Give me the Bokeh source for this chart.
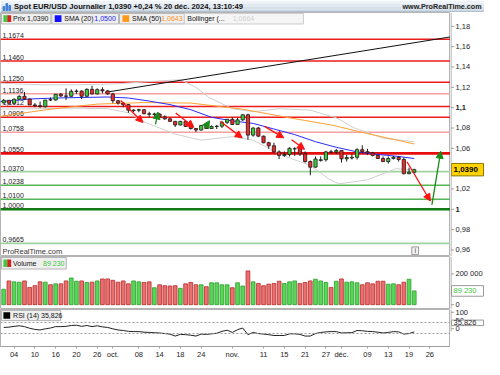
from bokeh.plotting import figure
from bokeh.layouts import column, row
from bokeh.models import Range1d, FixedTicker, Arrow, NormalHead, Span
from bokeh.core.properties import value
from bokeh.embed import file_html
from bokeh.resources import INLINE

FONT = "Liberation Sans"

# ---------------- data ----------------
title_text = "Spot EUR/USD Journalier 1,0390 +0,24 % 20 déc. 2024, 13:10:49"
site_text = "www.ProRealTime.com"

opens = [1.1047, 1.1072, 1.1044, 1.1083, 1.1112, 1.1085, 1.1027, 1.1020, 1.1010, 1.1078,
         1.1075, 1.1132, 1.1115, 1.1112, 1.1160, 1.1163, 1.1112, 1.1180, 1.1135, 1.1177,
         1.1165, 1.1135, 1.1068, 1.1045, 1.1030, 1.0972, 1.0975, 1.0980, 1.0940, 1.0935,
         1.0937, 1.0910, 1.0890, 1.0865, 1.0830, 1.0865, 1.0815, 1.0795, 1.0780, 1.0825,
         1.0795, 1.0815, 1.0818, 1.0855, 1.0885, 1.0835, 1.0880, 1.0930, 1.0730, 1.0800,
         1.0720, 1.0655, 1.0625, 1.0565, 1.0530, 1.0540, 1.0595, 1.0597, 1.0545, 1.0470,
         1.0415, 1.0480, 1.0488, 1.0565, 1.0563, 1.0578, 1.0497, 1.0505, 1.0512, 1.0587,
         1.0567, 1.0555, 1.0530, 1.0500, 1.0470, 1.0500, 1.0512, 1.0490, 1.0350, 1.0365]
highs = [1.1085, 1.1075, 1.1090, 1.1120, 1.1155, 1.1090, 1.1045, 1.1060, 1.1075, 1.1100,
         1.1135, 1.1145, 1.1190, 1.1180, 1.1180, 1.1170, 1.1190, 1.1215, 1.1190, 1.1200,
         1.1175, 1.1145, 1.1075, 1.1055, 1.1035, 1.0985, 1.0990, 1.0985, 1.0960, 1.0950,
         1.0945, 1.0925, 1.0900, 1.0870, 1.0870, 1.0870, 1.0835, 1.0800, 1.0830, 1.0835,
         1.0825, 1.0830, 1.0870, 1.0890, 1.0905, 1.0900, 1.0935, 1.0940, 1.0805, 1.0810,
         1.0725, 1.0665, 1.0655, 1.0580, 1.0570, 1.0610, 1.0610, 1.0610, 1.0570, 1.0480,
         1.0520, 1.0520, 1.0575, 1.0585, 1.0595, 1.0580, 1.0535, 1.0545, 1.0600, 1.0630,
         1.0595, 1.0565, 1.0540, 1.0520, 1.0520, 1.0525, 1.0525, 1.0510, 1.0410, 1.0400]
lows = [1.1040, 1.1025, 1.1030, 1.1075, 1.1075, 1.1025, 1.1005, 1.1000, 1.1000, 1.1065,
        1.1070, 1.1105, 1.1075, 1.1105, 1.1135, 1.1085, 1.1105, 1.1130, 1.1130, 1.1140,
        1.1125, 1.1045, 1.1030, 1.1005, 1.0950, 1.0955, 1.0955, 1.0935, 1.0905, 1.0915,
        1.0905, 1.0880, 1.0860, 1.0810, 1.0825, 1.0810, 1.0785, 1.0760, 1.0775, 1.0790,
        1.0790, 1.0790, 1.0800, 1.0840, 1.0830, 1.0835, 1.0870, 1.0685, 1.0715, 1.0710,
        1.0650, 1.0595, 1.0560, 1.0495, 1.0515, 1.0520, 1.0525, 1.0525, 1.0460, 1.0335,
        1.0410, 1.0470, 1.0470, 1.0550, 1.0545, 1.0460, 1.0470, 1.0490, 1.0490, 1.0555,
        1.0535, 1.0520, 1.0495, 1.0465, 1.0450, 1.0490, 1.0470, 1.0345, 1.0345, 1.0355]
closes = [1.1072, 1.1044, 1.1083, 1.1112, 1.1085, 1.1027, 1.1020, 1.1010, 1.1075, 1.1075,
          1.1132, 1.1115, 1.1112, 1.1160, 1.1163, 1.1112, 1.1180, 1.1135, 1.1177, 1.1165,
          1.1135, 1.1068, 1.1045, 1.1030, 1.0975, 1.0976, 1.0980, 1.0940, 1.0935, 1.0937,
          1.0910, 1.0890, 1.0865, 1.0830, 1.0865, 1.0815, 1.0795, 1.0780, 1.0825, 1.0795,
          1.0815, 1.0818, 1.0855, 1.0885, 1.0835, 1.0880, 1.0930, 1.0730, 1.0800, 1.0720,
          1.0655, 1.0625, 1.0565, 1.0530, 1.0540, 1.0600, 1.0597, 1.0545, 1.0470, 1.0415,
          1.0495, 1.0488, 1.0565, 1.0563, 1.0578, 1.0497, 1.0510, 1.0512, 1.0587, 1.0567,
          1.0555, 1.0530, 1.0500, 1.0470, 1.0500, 1.0512, 1.0490, 1.0350, 1.0365, 1.0390]
volumes = [100000, 154000, 148000, 146000, 154000, 112000, 123000, 148000, 146000, 129000,
           135000, 135000, 154000, 173000, 152000, 154000, 144000, 146000, 154000, 167000,
           167000, 158000, 146000, 154000, 135000, 154000, 148000, 144000, 148000, 110000,
           129000, 123000, 121000, 123000, 106000, 135000, 144000, 129000, 129000, 117000,
           142000, 142000, 129000, 129000, 110000, 142000, 121000, 219000, 148000, 137000,
           123000, 133000, 137000, 152000, 137000, 148000, 154000, 137000, 144000, 154000,
           165000, 154000, 144000, 112000, 152000, 167000, 146000, 148000, 142000, 129000,
           142000, 135000, 152000, 152000, 133000, 135000, 129000, 146000, 165000, 89230]
rsi = [52, 53, 56, 58, 55, 49, 45, 43, 47, 50,
       55, 55, 56, 59, 60, 56, 59, 55, 58, 54,
       52, 47, 43, 41, 38, 37, 37, 35, 34, 33,
       32, 30, 28, 21, 27, 26, 24, 21, 28, 27,
       29, 31, 38, 42, 34, 44, 50, 26, 34, 30,
       28, 26, 23, 23, 23, 29, 29, 27, 21, 21,
       30, 34, 36, 37, 37, 32, 33, 33, 41, 40,
       38, 37, 35, 32, 34, 37, 36, 28, 30, 35.826]

# indicator lines (bar index, value)
sma20_x = [-0.6, 5, 10, 15, 20, 24, 28, 32, 36, 40, 44, 48, 52, 56, 60, 64, 68, 72, 76, 79]
sma20_y = [1.1060, 1.1085, 1.1095, 1.1100, 1.1105, 1.1095, 1.1065, 1.1030, 1.0980, 1.0905,
           1.0870, 1.0845, 1.0790, 1.0735, 1.0665, 1.0610, 1.0565, 1.0540, 1.0520, 1.0500]
sma50_x = [-0.6, 9, 18, 27, 36, 46, 55, 63, 70, 79]
sma50_y = [1.0915, 1.0985, 1.1035, 1.1050, 1.1045, 1.0985, 1.0900, 1.0830, 1.0745, 1.0643]
boll_up_x = [-0.6, 7, 14, 22, 29, 34, 37, 39.5, 44, 48, 53, 59, 64, 67.5, 73, 79]
boll_up_y = [1.1240, 1.1225, 1.1225, 1.1235, 1.1260, 1.1275, 1.1200, 1.1100, 1.0990, 1.0960,
             1.0990, 1.0975, 1.0900, 1.0800, 1.0700, 1.0664]
boll_lo_x = [-0.6, 7, 14, 20, 24, 27, 30, 33, 38, 44, 48, 52.5, 55.5, 59, 62.5, 64.5, 70, 75.5, 79]
boll_lo_y = [1.0985, 1.0990, 1.0995, 1.0990, 1.0950, 1.0860, 1.0800, 1.0740, 1.0680, 1.0715,
             1.0680, 1.0560, 1.0496, 1.0433, 1.0300, 1.0250, 1.0290, 1.0400, 1.0386]

# horizontal support / resistance levels
levels = [1.1674, 1.1460, 1.1250, 1.1136, 1.1012, 1.0906, 1.0758, 1.0550,
          1.0370, 1.0238, 1.0100, 1.0000, 0.9665]
level_labels = ["1,1674", "1,1460", "1,1250", "1,1136", "1,1012", "1,0906", "1,0758", "1,0550",
                "1,0370", "1,0238", "1,0100", "1,0000", "0,9665"]
level_colors = ["#ee1c1c", "#ee1c1c", "#ee1c1c", "#f5a0a0", "#ee1c1c", "#ee1c1c", "#f5a0a0", "#e80c0c",
                "#9fd29f", "#56b556", "#56b556", "#137a13", "#9fd29f"]
level_widths = [1.5, 1.5, 1.5, 1.5, 1.5, 1.5, 1.5, 2.8, 1.8, 1.5, 1.5, 2.5, 1.8]

# drawn trend line and arrows (bar index, price)
trend_x = [19.5, 86.0]
trend_y = [1.1150, 1.1696]
arrow_x0 = [22.5, 29.2, 33.1, 38.7, 41.7, 50.2, 55.4, 77.6, 82.4]
arrow_y0 = [1.1070, 1.0835, 1.0948, 1.0797, 1.0863, 1.0816, 1.0684, 1.0468, 1.0044]
arrow_x1 = [26.8, 29.7, 36.6, 39.6, 45.9, 53.9, 57.9, 82.1, 84.1]
arrow_y1 = [1.0854, 1.0957, 1.0807, 1.0872, 1.0703, 1.0703, 1.0590, 1.0082, 1.0571]
arrow_colors = ["#ff1010", "#1a8a1a", "#ff1010", "#1a8a1a", "#ff1010", "#ff1010", "#ff1010",
                "#ff1010", "#1a8a1a"]

# axes
price_ticks = [0.96, 0.98, 1.0, 1.02, 1.04, 1.06, 1.08, 1.1, 1.12, 1.14, 1.16, 1.18]
price_tick_labels = ["0,96", "0,98", "1", "1,02", "1,04", "1,06", "1,08", "1,1", "1,12", "1,14", "1,16", "1,18"]
price_tick_bold = [False, False, True, False, False, False, False, True, False, False, False, False]
vol_ticks = [0, 100000, 200000]
vol_tick_labels = ["0", "100 000", "200 000"]
rsi_ticks = [0, 50, 100]
rsi_tick_labels = ["0", "50", "100"]
date_ticks = [2, 6, 10, 14, 18, 21, 26, 30, 34, 38, 44, 50, 54, 58, 62, 65, 70, 74, 78, 82]
date_labels = ["04", "10", "16", "20", "26", "oct.", "08", "14", "18", "24", "nov.",
               "11", "15", "21", "27", "déc.", "09", "13", "19", "26"]

# ---------------- helpers (layout in reference-pixel units) ----------------
def px_i(x):
    return (x - 3.3) / 5.37

def px_p(y):
    return 1 + (217.7 - y) / 1062.5

def px_v(y):
    return (317 - y) * 6250

def px_r(y):
    return (357 - y) / 0.3

def fr(v, nd=4):
    return f"{v:.{nd}f}".replace(".", ",")

def fv(v):
    return f"{v:,}".replace(",", " ")

n = len(closes)
idx = list(range(n))
up = [c >= o for o, c in zip(opens, closes)]
GREEN = "#3ccc3c"
RED = "#ee2a2a"
AXC = "#a0a0a0"

x_range = Range1d(px_i(0), px_i(465))
FW = 450
SW = 34


def main_fig(frame_h, y_range, x_axis=False):
    f = figure(frame_width=FW, frame_height=frame_h, x_range=x_range, y_range=y_range,
               output_backend="svg", toolbar_location=None, y_axis_location=None,
               x_axis_location="below" if x_axis else None, min_border=0,
               background_fill_color="white", border_fill_color="white",
               outline_line_color="#b4b4b4")
    f.grid.visible = False
    return f


def strip_fig(frame_h, y_range, ticks, labels, bold=None):
    s = figure(width=SW, height=frame_h, x_range=Range1d(0, SW), y_range=y_range,
               output_backend="svg", toolbar_location=None, y_axis_location=None,
               x_axis_location=None, min_border=0, outline_line_color=None,
               background_fill_color="white", border_fill_color="white")
    s.grid.visible = False
    s.add_layout(Span(location=0.5, dimension="height", line_color=AXC, line_width=1))
    s.segment(x0=0.5, x1=3.5, y0=ticks, y1=ticks, line_color=AXC, line_width=1)
    styles = ["bold" if b else "normal" for b in (bold or [False] * len(ticks))]
    s.text(x=[5] * len(ticks), y=ticks, text=labels, text_font=value(FONT),
           text_font_size="7.5px", text_color="#222222", text_baseline="middle",
           text_font_style=styles)
    return s


def value_box(s, y, half, label, fill, border, color, size="7.5px", style="normal"):
    s.quad(left=1, right=SW - 1, top=y + half, bottom=y - half, fill_color=fill,
           line_color=border, line_width=1)
    s.text(x=[3], y=[y], text=[label], text_font=value(FONT), text_font_size=size,
           text_font_style=style, text_color=color, text_baseline="middle")


def txt(f, x, y, s, color="#111111", size="7px", style="normal", align="left", alpha=1.0,
        baseline="middle"):
    f.text(x=[x], y=[y], text=[s], text_font=value(FONT), text_font_size=size,
           text_font_style=style, text_color=color, text_align=align,
           text_baseline=baseline, text_alpha=alpha)


# ---------------- title bar ----------------
t = figure(width=FW + SW, height=12, x_range=Range1d(0, 500), y_range=Range1d(12, 0),
           output_backend="svg", toolbar_location=None, x_axis_location=None,
           y_axis_location=None, min_border=0, outline_line_color=None)
t.grid.visible = False
t.quad(left=0, right=500, top=[0, 3, 6, 9], bottom=[3, 6, 9, 12],
       color=["#eef3f8", "#e2e9f0", "#d6e0e9", "#cbd7e2"], line_color=None)
t.segment(x0=0, x1=500, y0=11.6, y1=11.6, line_color="#93a2b0", line_width=1)
t.vbar(x=[3.5, 6.5, 9.5], bottom=10, top=[6, 3, 5], width=1.6, color="#3f7fd6")
txt(t, 14, 6.3, title_text, size="7.6px", style="bold")
txt(t, 497, 6.3, site_text, size="7.2px", style="bold", align="right", color="#222222")

# ---------------- price panel ----------------
py = Range1d(px_p(267), px_p(12))
p = main_fig(244, py)

for lv, c, w in zip(levels, level_colors, level_widths):
    p.add_layout(Span(location=lv, dimension="width", line_color=c, line_width=w, level="underlay"))
p.text(x=[px_i(2)] * len(levels), y=levels, text=level_labels, text_font=value(FONT),
       text_font_size="7px", text_color="#1a1a1a", text_baseline="bottom", y_offset=-1)

p.line(boll_up_x, boll_up_y, line_color="#cfcfcf", line_width=1)
p.line(boll_lo_x, boll_lo_y, line_color="#cfcfcf", line_width=1)
p.line(sma50_x, sma50_y, line_color="#ffa033", line_width=1)
p.line(sma20_x, sma20_y, line_color="#2b2bff", line_width=1)
p.line(trend_x, trend_y, line_color="#111111", line_width=1)

p.segment(x0=idx, x1=idx, y0=lows, y1=highs, line_color="#1a1a1a", line_width=1)
p.vbar(x=idx, width=0.62, top=[max(o, c) for o, c in zip(opens, closes)],
       bottom=[min(o, c) for o, c in zip(opens, closes)],
       fill_color=[GREEN if u else RED for u in up], line_color="#1a1a1a", line_width=0.8)

for x0, y0, x1, y1, c in zip(arrow_x0, arrow_y0, arrow_x1, arrow_y1, arrow_colors):
    p.add_layout(Arrow(x_start=x0, y_start=y0, x_end=x1, y_end=y1, line_color=c, line_width=1.3,
                       end=NormalHead(size=7, fill_color=c, line_color=c)))

# legend row
ly0, ly1, lym = px_p(13), px_p(24), px_p(18.5)
p.quad(left=[px_i(1), px_i(53), px_i(123)], right=[px_i(52), px_i(122), px_i(190)],
       top=ly0, bottom=ly1, fill_color="#efefef", line_color="#b4b4b4")
p.quad(left=px_i(190), right=px_i(313), top=ly0, bottom=ly1, fill_color="#f5f5f5",
       line_color="#cccccc")
p.quad(left=px_i(3), right=px_i(7), top=px_p(15), bottom=px_p(22), fill_color=GREEN, line_color=None)
p.quad(left=px_i(7), right=px_i(11), top=px_p(15), bottom=px_p(22), fill_color="#d82020", line_color=None)
p.quad(left=px_i(56), right=px_i(63), top=px_p(15), bottom=px_p(22), fill_color="#1010ff", line_color=None)
p.quad(left=px_i(126), right=px_i(133), top=px_p(15), bottom=px_p(22), fill_color="#ff9a1a", line_color=None)
txt(p, px_i(13), lym, "Prix " + fr(closes[-1]))
txt(p, px_i(66), lym, "SMA (20)")
txt(p, px_i(97), lym, fr(sma20_y[-1]), color="#1a1aff")
txt(p, px_i(136), lym, "SMA (50)")
txt(p, px_i(166), lym, fr(sma50_y[-1]), color="#ff9020")
txt(p, px_i(193), lym, "Bollinger (...")
txt(p, px_i(240), lym, fr(boll_up_y[-1]), color="#d0d0d0")

# watermark and info icon
txt(p, px_i(2), px_p(266), "ProRealTime.com", color="#333333", size="7.5px", baseline="bottom")
p.quad(left=px_i(425), right=px_i(432), top=px_p(257), bottom=px_p(265), fill_color="#f2f2f2",
       line_color="#999999")
txt(p, px_i(428.5), px_p(261), "i", color="#555555", size="7px", align="center")

ps = strip_fig(244, py, price_ticks, price_tick_labels, price_tick_bold)
value_box(ps, closes[-1], 6.5 / 1062.5, fr(closes[-1]), "#ffd200", "#8c7a00", "#000000",
          size="8px", style="bold")

# ---------------- volume panel ----------------
vy = Range1d(px_v(322), px_v(267))
v = main_fig(53, vy)
v.vbar(x=idx, width=0.72, top=volumes, bottom=0,
       fill_color=["#56d856" if u else "#ea7070" for u in up],
       line_color=["#2f9a2f" if u else "#b82a2a" for u in up], line_width=0.8)
v.quad(left=px_i(1), right=px_i(68), top=px_v(268), bottom=px_v(280), fill_color="#efefef",
       line_color="#b4b4b4")
v.quad(left=px_i(3), right=px_i(7), top=px_v(270), bottom=px_v(278), fill_color=GREEN, line_color=None)
v.quad(left=px_i(7), right=px_i(11), top=px_v(270), bottom=px_v(278), fill_color="#d82020", line_color=None)
txt(v, px_i(13), px_v(274), "Volume")
txt(v, px_i(44), px_v(274), fv(volumes[-1]), color="#3cc83c")

vs = strip_fig(53, vy, vol_ticks, vol_tick_labels)
value_box(vs, volumes[-1], 5.5 * 6250, fv(volumes[-1]), "white", "#999999", "#3cc83c")

# ---------------- RSI panel ----------------
ry = Range1d(px_r(362), px_r(322))
r = main_fig(37, ry, x_axis=True)
r.add_layout(Span(location=70, dimension="width", line_color="#9a9a9a", line_dash="2 2", line_width=1))
r.add_layout(Span(location=30, dimension="width", line_color="#9a9a9a", line_dash="2 2", line_width=1))
r.line(idx, rsi, line_color="#222222", line_width=1)
r.quad(left=px_i(1), right=px_i(62), top=px_r(323), bottom=px_r(334), fill_color="#efefef",
       line_color="#b4b4b4")
r.quad(left=px_i(3), right=px_i(10), top=px_r(325), bottom=px_r(332), fill_color="#000000",
       line_color=None)
txt(r, px_i(13), px_r(328.5), "RSI (14) " + fr(rsi[-1], 3))
xa = r.xaxis[0]
xa.ticker = FixedTicker(ticks=date_ticks)
xa.major_label_overrides = dict(zip(date_ticks, date_labels))
xa.axis_line_color = AXC
xa.major_tick_line_color = AXC
xa.major_tick_out = 2
xa.major_tick_in = 0
xa.minor_tick_line_color = None
xa.major_label_text_font = FONT
xa.major_label_text_font_size = "7.5px"
xa.major_label_text_color = "#222222"
xa.major_label_standoff = 1

rs = strip_fig(37, ry, rsi_ticks, rsi_tick_labels)
value_box(rs, rsi[-1], 5 / 0.3, fr(rsi[-1], 3), "white", "#999999", "#222222")

layout = column(t, row(p, ps, spacing=0), row(v, vs, spacing=0), row(r, rs, spacing=0), spacing=0)
open("out.html", "w").write(file_html(layout, INLINE))
